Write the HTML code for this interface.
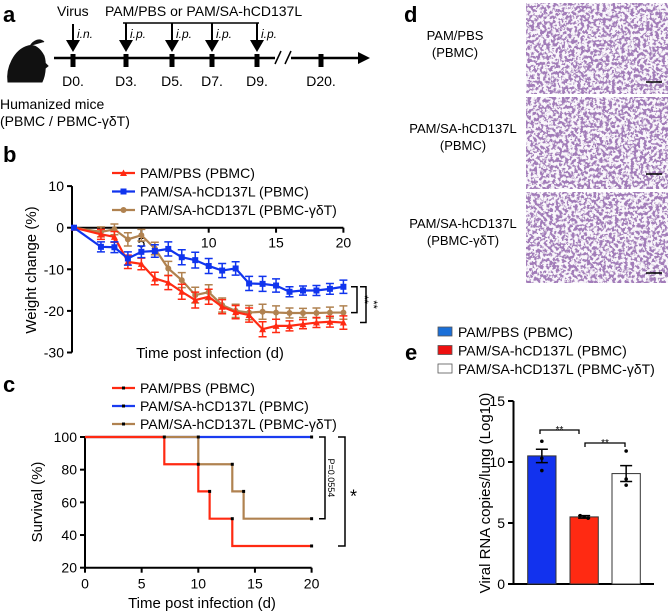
<!DOCTYPE html>
<html><head><meta charset="utf-8"><style>
body{margin:0;background:#fff;}
svg{display:block;font-family:"Liberation Sans",sans-serif;}
</style></head><body>
<svg id="fig" width="672" height="614" viewBox="0 0 672 614">
<defs>
<filter id="tissue" x="0" y="0" width="100%" height="100%">
<feTurbulence type="fractalNoise" baseFrequency="0.32" numOctaves="3" seed="4" result="n"/>
<feColorMatrix in="n" type="matrix" values="0 0 0 0 0.95  0 0 0 0 0.92  0 0 0 0 0.96  0 0 0 -10 5.6" result="holes"/>
<feFlood flood-color="#a27bb9" result="base"/>
<feComposite in="holes" in2="base" operator="over"/>
</filter>
</defs>
<g font-weight="bold" font-size="22">
<text x="3" y="22">a</text>
<text x="3" y="162">b</text>
<text x="3" y="392">c</text>
<text x="404" y="22">d</text>
<text x="405" y="360">e</text>
</g>
<!-- panel a -->
<g id="pa">
<path d="M8,82 C6,68 14,50 28,46 C34,44 40,48 44,56 C46,62 46,74 42,82 Z M30,46 C34,40 40,38 44,42 M44,62 L48,66 L43,70" fill="#111" stroke="#111"/>
<line x1="54" y1="58" x2="275" y2="58" stroke="#000" stroke-width="2.5"/>
<line x1="291" y1="58" x2="360" y2="58" stroke="#000" stroke-width="2.5"/>
<polygon points="358,52 370,58 358,64" fill="#000"/>
<line x1="275" y1="64" x2="281" y2="51" stroke="#000" stroke-width="1.5"/>
<line x1="285" y1="64" x2="291" y2="51" stroke="#000" stroke-width="1.5"/>
<line x1="123" y1="23" x2="259" y2="23" stroke="#000" stroke-width="1.5"/>
<text x="57" y="16" font-size="14">Virus</text>
<text x="105" y="16" font-size="14">PAM/PBS or PAM/SA-hCD137L</text>
<text x="0" y="109" font-size="14">Humanized mice</text>
<text x="0" y="126" font-size="14">(PBMC / PBMC-γδT)</text>
</g>
<!-- panel d -->
<g font-size="13" text-anchor="middle">
<text x="455" y="40">PAM/PBS</text><text x="455" y="57">(PBMC)</text>
<text x="463" y="133">PAM/SA-hCD137L</text><text x="463" y="150">(PBMC)</text>
<text x="463" y="228">PAM/SA-hCD137L</text><text x="463" y="245">(PBMC-γδT)</text>
<rect x="526" y="3" width="142" height="91" filter="url(#tissue)"/>
<rect x="526" y="97" width="142" height="92" filter="url(#tissue)"/>
<rect x="526" y="192" width="142" height="91" filter="url(#tissue)"/>
<g stroke="#000" stroke-width="1.5"><line x1="646" y1="82" x2="662" y2="82"/><line x1="646" y1="174" x2="662" y2="174"/><line x1="646" y1="273" x2="662" y2="273"/></g>
</g>
<g id="pb"></g><g id="pc"></g><g id="pe"></g>
</svg>
<script>
// Panel a timeline
const tlDays=["D0.","D3.","D5.","D7.","D9.","D20."];
const tlX=[73,126,172,212,257,321];
const tlRoute=["i.n.","i.p.","i.p.","i.p.","i.p.",""];
// Panel b weight
const wDays=[0,2,3,4,5,6,7,8,9,10,11,12,13,14,15,16,17,18,19,20];
const wRed=[0,-1.6,-2.2,-8.2,-8.7,-12.2,-13.2,-15.4,-17.4,-16.6,-19,-20.3,-21,-24.4,-23.6,-23.6,-23.2,-22.8,-22.6,-22.8];
const wBlue=[0,-4.6,-4.7,-7.4,-5.8,-5.6,-5.1,-7.1,-7.8,-9.2,-10.3,-9.8,-13.4,-13.5,-13.9,-15.4,-15.1,-15.1,-14.7,-14.2];
const wBrown=[0,-1,-0.4,-2.8,-1.8,-5,-9.8,-12.6,-16.2,-15.5,-18.6,-20,-20.4,-20.2,-20.4,-20.5,-20.5,-20.5,-20.4,-20.4];
const wErr=[0,1.2,1.3,1.6,1.4,1.5,1.7,1.8,1.9,1.8,1.7,1.6,1.7,1.8,1.6,1.2,1.1,1.2,1.3,1.6];
const bYTicks=[10,0,-10,-20,-30];
const bXTicks=[5,10,15,20];
// Panel c survival
const sRedT=[0,7,10,11,13,20], sRedV=[100,83.3,66.7,50,33.3,33.3];
const sBlueT=[0,20], sBlueV=[100,100];
const sBrownT=[0,10,13,14,20], sBrownV=[100,83.3,66.7,50,50];
const cYTicks=[20,40,60,80,100];
const cXTicks=[0,5,10,15,20];
// Panel e bars
const eCats=["PAM/PBS (PBMC)","PAM/SA-hCD137L (PBMC)","PAM/SA-hCD137L (PBMC-γδT)"];
const eVals=[10.5,5.5,9.05];
const eErr=[0.55,0.1,0.65];
const ePts=[[11.7,10.3,9.3],[5.6,5.5,5.4],[10.9,8.6,8.1]];
const eYTicks=[0,5,10,15];

const NS="http://www.w3.org/2000/svg";
function mk(p,tag,at,txt){const e=document.createElementNS(NS,tag);for(const k in at)e.setAttribute(k,at[k]);if(txt!==undefined)e.textContent=txt;p.appendChild(e);return e;}

const pa=document.getElementById('pa');
tlDays.forEach((d,i)=>{
 const x=tlX[i];
 const t=mk(pa,'rect',{x:x-2.5,y:54,width:5,height:13,fill:'#000'});
 
 
 mk(pa,'text',{x:x,y:86,'font-size':14,'text-anchor':'middle'},d);
 if(tlRoute[i]){
  mk(pa,'line',{x1:x,y1:i===0?24:23,x2:x,y2:42,stroke:'#000','stroke-width':2});
  mk(pa,'polygon',{points:`${x-7},40 ${x+7},40 ${x},52`,fill:'#000'});
  mk(pa,'text',{x:x+4,y:38,'font-size':12,'font-style':'italic'},tlRoute[i]);
 }
});

// Panel b
const pb=document.getElementById('pb');
const bx=d=>74+d*13.47, by=v=>227.7-v*4.16;
mk(pb,'line',{x1:72,y1:by(10),x2:72,y2:by(-30),stroke:'#000','stroke-width':2});
mk(pb,'line',{x1:72,y1:by(0),x2:bx(20),y2:by(0),stroke:'#000','stroke-width':2});
bYTicks.forEach(v=>{mk(pb,'line',{x1:67,y1:by(v),x2:72,y2:by(v),stroke:'#000','stroke-width':2});
 const t=mk(pb,'text',{x:64,y:by(v)+5,'font-size':14,'text-anchor':'end'},v);
 
 });
bXTicks.forEach(v=>{mk(pb,'line',{x1:bx(v),y1:by(0),x2:bx(v),y2:by(0)+5,stroke:'#000','stroke-width':2});
 mk(pb,'text',{x:bx(v),y:by(0)+20,'font-size':14,'text-anchor':'middle'},v);});
const yl=mk(pb,'text',{transform:`translate(36,270) rotate(-90)`,'font-size':15,'text-anchor':'middle'},'Weight change (%)');


mk(pb,'text',{x:210,y:358,'font-size':15,'text-anchor':'middle'},'Time post infection (d)');
const bSeries=[[wBrown,'#b08250','c'],[wRed,'#ff2a12','t'],[wBlue,'#1034ee','s']];
function marker(g,type,x,y,c){
 if(type==='c')return mk(g,'circle',{cx:x,cy:y,r:3,fill:c});
 if(type==='s')return mk(g,'rect',{x:x-3,y:y-3,width:6,height:6,fill:c});
 return mk(g,'polygon',{points:`${x-3.5},${y+3} ${x+3.5},${y+3} ${x},${y-3.5}`,fill:c});
}
bSeries.forEach(([vals,c,m])=>{
 const g=mk(pb,'g',{});
 
 
 mk(g,'polyline',{points:wDays.map((d,i)=>bx(d)+','+by(vals[i])).join(' '),fill:'none',stroke:c,'stroke-width':2.2});
 wDays.forEach((d,i)=>{ if(i===0)return;
  const e=wErr[i],x=bx(d);
  mk(g,'path',{d:`M${x},${by(vals[i]+e)}V${by(vals[i]-e)}M${x-4},${by(vals[i]+e)}H${x+4}M${x-4},${by(vals[i]-e)}H${x+4}`,stroke:c,'stroke-width':1.5,fill:'none'});
  const mm=marker(g,m,x,by(vals[i]),c);
  
  
 });
 marker(g,m,bx(0),by(0),c);
});
[[wRed,'#ff2a12','t','PAM/PBS (PBMC)'],[wBlue,'#1034ee','s','PAM/SA-hCD137L (PBMC)'],[wBrown,'#b08250','c','PAM/SA-hCD137L (PBMC-γδT)']].forEach((s,i)=>{
 const y=173+i*18.5;
 const g=mk(pb,'g',{});
 
 
 mk(g,'line',{x1:112,y1:y,x2:135,y2:y,stroke:s[1],'stroke-width':2.2});
 marker(g,s[2],123.5,y,s[1]);
 mk(g,'text',{x:140,y:y+5,'font-size':14},s[3]);
});
mk(pb,'path',{d:`M351,${by(-14.2)}H357V${by(-20.4)}H351`,stroke:'#000',fill:'none','stroke-width':1.5});
mk(pb,'path',{d:`M360,${by(-14.2)}H366V${by(-22.8)}H360`,stroke:'#000',fill:'none','stroke-width':1.5});
mk(pb,'text',{transform:`translate(361,${by(-17.3)}) rotate(90)`,'font-size':11,'text-anchor':'middle'},'**');
mk(pb,'text',{transform:`translate(370,${by(-18.5)}) rotate(90)`,'font-size':11,'text-anchor':'middle'},'**');

// Panel c
const pc=document.getElementById('pc');
const cx=d=>85+d*11.33;
function cyf(v){return 567.7-(v-20)*(130.7/80);}
mk(pc,'line',{x1:85,y1:cyf(100),x2:85,y2:cyf(20),stroke:'#000','stroke-width':2});
mk(pc,'line',{x1:85,y1:cyf(20),x2:cx(20),y2:cyf(20),stroke:'#000','stroke-width':2});
cYTicks.forEach(v=>{mk(pc,'line',{x1:80,y1:cyf(v),x2:85,y2:cyf(v),stroke:'#000','stroke-width':2});
 mk(pc,'text',{x:77,y:cyf(v)+5,'font-size':14,'text-anchor':'end'},v);});
cXTicks.forEach(v=>{mk(pc,'line',{x1:cx(v),y1:cyf(20),x2:cx(v),y2:cyf(20)+5,stroke:'#000','stroke-width':2});
 mk(pc,'text',{x:cx(v),y:cyf(20)+21,'font-size':14,'text-anchor':'middle'},v);});
mk(pc,'text',{transform:`translate(42,502) rotate(-90)`,'font-size':15,'text-anchor':'middle'},'Survival (%)');
mk(pc,'text',{x:202,y:608,'font-size':15,'text-anchor':'middle'},'Time post infection (d)');
function stepPath(T,V){let d=`M${cx(T[0])},${cyf(V[0])}`;for(let i=1;i<T.length;i++){d+=`H${cx(T[i])}V${cyf(V[i])}`;}return d;}
[[sBlueT,sBlueV,'#1a3cf0'],[sBrownT,sBrownV,'#b08250'],[sRedT,sRedV,'#ff2a12']].forEach(([T,V,c])=>{
 const p=mk(pc,'path',{d:stepPath(T,V),stroke:c,'stroke-width':2.2,fill:'none'});
 
 
 for(let i=1;i<T.length;i++) mk(pc,'rect',{x:cx(T[i])-1.5,y:cyf(V[i-1])-1.5,width:3,height:3,fill:'#000'});
});
[['#ff2a12','PAM/PBS (PBMC)'],['#1a3cf0','PAM/SA-hCD137L (PBMC)'],['#b08250','PAM/SA-hCD137L (PBMC-γδT)']].forEach((s,i)=>{
 const y=388+i*18;
 const g=mk(pc,'g',{});
 
 
 mk(g,'line',{x1:112,y1:y,x2:135,y2:y,stroke:s[0],'stroke-width':2.2});
 mk(g,'rect',{x:122,y:y-1.5,width:3,height:3,fill:'#000'});
 mk(g,'text',{x:140,y:y+5,'font-size':14},s[1]);
});
mk(pc,'path',{d:`M319,${cyf(100)}H325V${cyf(50)}H319`,stroke:'#000',fill:'none','stroke-width':1.5});
mk(pc,'path',{d:`M338,${cyf(100)}H345V${cyf(33.3)}H338`,stroke:'#000',fill:'none','stroke-width':1.5});
mk(pc,'text',{transform:`translate(328,${cyf(75)}) rotate(90)`,'font-size':9,'text-anchor':'middle'},'P=0.0554');
mk(pc,'text',{x:350,y:cyf(66)+10,'font-size':18},'*');

// Panel e
const pe=document.getElementById('pe');
const ey=v=>584-v*12.2;
const barX=[527.7,570,612], barW=28.3, eColors=['#1232ee','#ff2a12','#ffffff'], eLegColors=['#1a6fd8','#ee1010','#ffffff'];
mk(pe,'line',{x1:513.5,y1:ey(15),x2:513.5,y2:ey(0),stroke:'#000','stroke-width':2});
mk(pe,'line',{x1:513.5,y1:ey(0),x2:654,y2:ey(0),stroke:'#000','stroke-width':2});
eYTicks.forEach(v=>{mk(pe,'line',{x1:508,y1:ey(v),x2:513.5,y2:ey(v),stroke:'#000','stroke-width':2});
 mk(pe,'text',{x:505,y:ey(v)+5,'font-size':14,'text-anchor':'end'},v);});
mk(pe,'text',{transform:`translate(490,493) rotate(-90)`,'font-size':15,'text-anchor':'middle'},'Viral RNA copies/lung (Log10)');
eVals.forEach((v,i)=>{
 const r=mk(pe,'rect',{x:barX[i],y:ey(v),width:barW,height:ey(0)-ey(v),fill:eColors[i],stroke:'#333','stroke-width':1});
 
 
 const m=barX[i]+barW/2;
 mk(pe,'path',{d:`M${m},${ey(v+eErr[i])}V${ey(v-eErr[i])}M${m-6},${ey(v+eErr[i])}H${m+6}M${m-6},${ey(v-eErr[i])}H${m+6}`,stroke:'#000','stroke-width':1.5,fill:'none'});
 ePts[i].forEach((p,j)=>mk(pe,'circle',{cx:m+(i===1?(j-1)*4:0),cy:ey(p),r:1.8,fill:'#000'}));
});
mk(pe,'path',{d:`M540,434V430H579V434`,stroke:'#000',fill:'none','stroke-width':1.3});
mk(pe,'text',{x:559.5,y:433,'font-size':10,'text-anchor':'middle'},'**');
mk(pe,'path',{d:`M585,447V443H625V447`,stroke:'#000',fill:'none','stroke-width':1.3});
mk(pe,'text',{x:605,y:446,'font-size':10,'text-anchor':'middle'},'**');
eCats.forEach((c,i)=>{
 const y=332+i*18.5;
 const g=mk(pe,'g',{});
 
 
 mk(g,'rect',{x:438,y:y-5,width:14,height:9,fill:eLegColors[i],stroke:'#555','stroke-width':0.8});
 mk(g,'text',{x:458,y:y+5,'font-size':14},c);
});
</script>
</body></html>
